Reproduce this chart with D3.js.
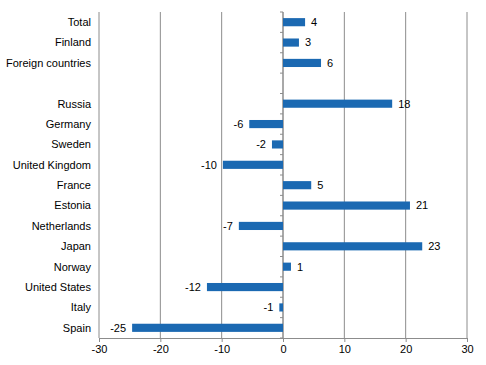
<!DOCTYPE html>
<html>
<head>
<meta charset="utf-8">
<script src="https://cdn.jsdelivr.net/npm/d3@7"></script>
<style>
  body { margin: 0; background: #fff; }
  svg text { font-family: "Liberation Sans", Arial, sans-serif; font-size: 11px; fill: #000; }
</style>
</head>
<body>
<div id="chart"></div>
<script>
// Categorías (la fila vacía separa los totales de los países)
const categories = ["Total", "Finland", "Foreign countries", "", "Russia", "Germany", "Sweden",
  "United Kingdom", "France", "Estonia", "Netherlands", "Japan", "Norway", "United States", "Italy", "Spain"];
const values = [3.6, 2.6, 6.2, null, 17.8, -5.5, -1.8, -9.8, 4.6, 20.7, -7.2, 22.7, 1.3, -12.4, -0.6, -24.6];
const valueLabels = ["4", "3", "6", "", "18", "-6", "-2", "-10", "5", "21", "-7", "23", "1", "-12", "-1", "-25"];
const xTicks = [-30, -20, -10, 0, 10, 20, 30];

const width = 486, height = 365;
const margin = { top: 12, right: 19, bottom: 27, left: 99 };
const w = width - margin.left - margin.right;
const h = height - margin.top - margin.bottom;

const svg = d3.select("#chart").append("svg")
  .attr("width", width).attr("height", height)
  .append("g")
  .attr("transform", `translate(${margin.left},${margin.top})`);

const x = d3.scaleLinear().domain([-30, 30]).range([0, w]);
const y = d3.scaleBand().domain(d3.range(categories.length)).range([0, h]).paddingInner(0.6).paddingOuter(0.3);
const step = h / categories.length;

// Líneas de cuadrícula verticales
svg.selectAll(".grid").data(xTicks).enter().append("line")
  .attr("x1", d => x(d)).attr("x2", d => x(d))
  .attr("y1", 0).attr("y2", h)
  .attr("stroke", "#8c8c8c").attr("stroke-width", 1);

// Eje inferior (guion normal, no signo menos unicode)
const xAxis = svg.append("g").attr("transform", `translate(0,${h})`)
  .call(d3.axisBottom(x).tickValues(xTicks).tickFormat(d => String(d)).tickSize(4).tickPadding(3));
xAxis.select(".domain").attr("stroke", "#8c8c8c");
xAxis.selectAll(".tick line").attr("stroke", "#8c8c8c");
xAxis.selectAll("text").style("font-size", "11px").attr("fill", "#000");

// Eje en cero con marcas entre categorías
svg.append("line")
  .attr("x1", x(0)).attr("x2", x(0)).attr("y1", 0).attr("y2", h)
  .attr("stroke", "#8c8c8c");
svg.selectAll(".cattick").data(d3.range(categories.length + 1)).enter().append("line")
  .attr("x1", x(0) - 3).attr("x2", x(0))
  .attr("y1", d => d * step).attr("y2", d => d * step)
  .attr("stroke", "#8c8c8c");

// Barras
const rows = categories.map((c, i) => ({ c, i, v: values[i], label: valueLabels[i] }))
  .filter(d => d.v !== null);

svg.selectAll(".bar").data(rows).enter().append("rect")
  .attr("x", d => x(Math.min(0, d.v)))
  .attr("y", d => y(d.i))
  .attr("width", d => Math.abs(x(d.v) - x(0)))
  .attr("height", y.bandwidth())
  .attr("fill", "#1b69b2");

// Etiquetas de valor
svg.selectAll(".vlabel").data(rows).enter().append("text")
  .attr("x", d => d.v >= 0 ? x(d.v) + 6 : x(d.v) - 6)
  .attr("y", d => y(d.i) + y.bandwidth() / 2)
  .attr("dy", "0.35em")
  .attr("text-anchor", d => d.v >= 0 ? "start" : "end")
  .text(d => d.label);

// Etiquetas de categoría
svg.selectAll(".clabel").data(categories.map((c, i) => ({ c, i }))).enter().append("text")
  .attr("x", -8)
  .attr("y", d => y(d.i) + y.bandwidth() / 2)
  .attr("dy", "0.35em")
  .attr("text-anchor", "end")
  .text(d => d.c);
</script>
</body>
</html>
